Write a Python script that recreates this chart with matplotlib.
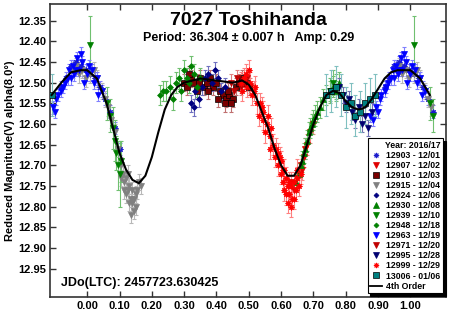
import numpy as np
import matplotlib
matplotlib.use('Agg')
import matplotlib.pyplot as plt
from matplotlib.lines import Line2D

plt.rcParams['font.family'] = ['Liberation Sans', 'DejaVu Sans']
plt.rcParams['font.weight'] = 'bold'

# ---- data (phase, reduced magnitude) ----
ph_12903 = [0.92, 0.935, 0.95, 0.965, 0.98, 0.995, 0.01, 0.025, 0.04, 0.055, 0.07, 0.085, 0.10]
mag_12903 = [12.51, 12.49, 12.46, 12.45, 12.46, 12.47, 12.48, 12.49, 12.51, 12.54, 12.57, 12.61, 12.66]

ph_12907 = [0.63, 0.64, 0.65, 0.655, 0.66, 0.665, 0.67, 0.675, 0.68, 0.69, 0.70]
mag_12907 = [12.74, 12.76, 12.73, 12.72, 12.70, 12.71, 12.68, 12.66, 12.65, 12.62, 12.60]

ph_12910 = [0.30, 0.31, 0.32, 0.33, 0.34, 0.35, 0.36, 0.37, 0.38, 0.39, 0.40,
            0.41, 0.42, 0.43, 0.44, 0.45, 0.46, 0.47, 0.48, 0.49, 0.50,
            0.315, 0.345, 0.375, 0.405, 0.425, 0.435, 0.445]
mag_12910 = [12.50, 12.51, 12.49, 12.50, 12.52, 12.49, 12.51, 12.50, 12.49, 12.51, 12.50,
             12.52, 12.53, 12.54, 12.53, 12.54, 12.51, 12.50, 12.49, 12.50, 12.51,
             12.48, 12.50, 12.52, 12.54, 12.55, 12.52, 12.55]

ph_12915 = [0.955, 0.965, 0.975, 0.985, 0.995, 0.01, 0.02, 0.03, 0.045, 0.055, 0.065, 0.075,
            0.085, 0.095, 0.105, 0.11, 0.115, 0.12, 0.125, 0.13, 0.135, 0.14, 0.145, 0.15,
            0.155, 0.16, 0.165, 0.12, 0.13, 0.135, 0.14, 0.145, 0.15, 0.125, 0.115, 0.105]
mag_12915 = [12.47, 12.46, 12.48, 12.47, 12.49, 12.48, 12.47, 12.49, 12.52, 12.54, 12.56, 12.59,
             12.62, 12.66, 12.70, 12.72, 12.74, 12.73, 12.76, 12.75, 12.78, 12.79, 12.81, 12.77,
             12.76, 12.74, 12.75, 12.77, 12.79, 12.82, 12.76, 12.78, 12.80, 12.72, 12.76, 12.73]

ph_12924 = [0.32, 0.33, 0.335, 0.345, 0.355, 0.365, 0.375, 0.385, 0.395, 0.405, 0.415, 0.425]
mag_12924 = [12.55, 12.56, 12.52, 12.54, 12.51, 12.49, 12.48, 12.50, 12.47, 12.49, 12.52, 12.51]

ph_12930 = [0.645, 0.655, 0.66, 0.665, 0.67, 0.675, 0.68, 0.685, 0.69, 0.695,
            0.70, 0.705, 0.71, 0.72, 0.73, 0.74, 0.75, 0.76, 0.77, 0.78]
mag_12930 = [12.74, 12.72, 12.70, 12.69, 12.67, 12.66, 12.64, 12.62, 12.61, 12.60,
             12.59, 12.58, 12.57, 12.56, 12.54, 12.53, 12.52, 12.51, 12.52, 12.50]

ph_12939 = [0.01, 0.06, 0.07, 0.08, 0.085, 0.09, 0.095, 0.10, 0.105, 0.75, 0.76, 0.77]
mag_12939 = [12.41, 12.55, 12.58, 12.61, 12.64, 12.67, 12.70, 12.72, 12.69, 12.52, 12.50, 12.51]
err_12939 = [0.07, 0.04, 0.04, 0.05, 0.05, 0.04, 0.06, 0.08, 0.05, 0.03, 0.03, 0.03]

ph_12948 = [0.225, 0.235, 0.245, 0.255, 0.265, 0.275, 0.285, 0.29, 0.30, 0.31,
            0.315, 0.32, 0.33, 0.34, 0.35]
mag_12948 = [12.53, 12.52, 12.52, 12.51, 12.54, 12.50, 12.49, 12.52, 12.47, 12.49,
             12.50, 12.46, 12.48, 12.51, 12.49]

ph_12963 = [0.875, 0.885, 0.895, 0.905, 0.91, 0.92, 0.93, 0.94, 0.945, 0.955, 0.96,
            0.97, 0.975, 0.985, 0.99, 0.998, 0.005, 0.015, 0.02, 0.03, 0.035, 0.045,
            0.90, 0.925, 0.95, 0.965, 0.98]
mag_12963 = [12.58, 12.59, 12.56, 12.54, 12.53, 12.52, 12.50, 12.49, 12.47, 12.46, 12.48,
             12.44, 12.47, 12.45, 12.50, 12.48, 12.46, 12.47, 12.50, 12.49, 12.53, 12.52,
             12.57, 12.51, 12.49, 12.47, 12.43]

ph_12971 = [0.445, 0.455, 0.465, 0.475, 0.485, 0.495, 0.505]
mag_12971 = [12.50, 12.52, 12.49, 12.51, 12.50, 12.49, 12.51]

ph_12995 = [0.78, 0.79, 0.80, 0.81, 0.82, 0.83, 0.84, 0.85, 0.86, 0.87, 0.88]
mag_12995 = [12.51, 12.53, 12.55, 12.54, 12.57, 12.59, 12.56, 12.60, 12.58, 12.61, 12.57]

ph_12999 = [0.475, 0.485, 0.495, 0.505, 0.515, 0.525, 0.53, 0.535, 0.545, 0.555, 0.565,
            0.57, 0.575, 0.58, 0.585, 0.59, 0.595, 0.60, 0.605, 0.61, 0.61, 0.615, 0.62,
            0.62, 0.625, 0.63, 0.63, 0.635, 0.64, 0.645, 0.65, 0.655,
            0.49, 0.51, 0.52, 0.54, 0.55, 0.56, 0.565, 0.59, 0.60, 0.605, 0.615,
            0.625, 0.64, 0.65, 0.66, 0.48, 0.50, 0.545]
mag_12999 = [12.50, 12.49, 12.51, 12.50, 12.52, 12.55, 12.58, 12.55, 12.59, 12.60, 12.63,
             12.61, 12.65, 12.68, 12.66, 12.70, 12.68, 12.72, 12.74, 12.76, 12.71, 12.73, 12.79,
             12.75, 12.77, 12.75, 12.80, 12.78, 12.74, 12.76, 12.73, 12.75,
             12.48, 12.53, 12.51, 12.56, 12.62, 12.58, 12.66, 12.67, 12.69, 12.71, 12.77,
             12.74, 12.78, 12.71, 12.72, 12.52, 12.47, 12.57]

ph_13006 = [0.74, 0.755, 0.77, 0.785, 0.80, 0.815, 0.83, 0.845, 0.86, 0.875, 0.89]
mag_13006 = [12.53, 12.52, 12.51, 12.53, 12.56, 12.55, 12.58, 12.57, 12.55, 12.54, 12.53]

# 4th order fit, read at a set of phases
fit_ph = [-0.11, -0.08, -0.05, -0.02, 0.00, 0.03, 0.06, 0.08, 0.10, 0.12, 0.14, 0.16, 0.18,
          0.20, 0.22, 0.24, 0.26, 0.28, 0.30, 0.35, 0.40, 0.45, 0.48, 0.50, 0.52, 0.54,
          0.56, 0.58, 0.60, 0.62, 0.64, 0.66, 0.68, 0.70, 0.72, 0.74, 0.76, 0.78, 0.80,
          0.82, 0.84, 0.86, 0.88, 0.90, 0.92, 0.94, 0.96, 0.98, 1.00, 1.03, 1.06]
fit_mag = [12.53, 12.50, 12.475, 12.47, 12.47, 12.49, 12.55, 12.61, 12.67, 12.71, 12.735, 12.743, 12.725,
           12.68, 12.62, 12.565, 12.53, 12.51, 12.50, 12.49, 12.495, 12.50, 12.495, 12.505, 12.53, 12.57,
           12.61, 12.66, 12.70, 12.725, 12.725, 12.70, 12.65, 12.60, 12.56, 12.53, 12.52, 12.525, 12.545,
           12.56, 12.565, 12.56, 12.54, 12.515, 12.49, 12.475, 12.47, 12.47, 12.47, 12.49, 12.53]

sessions = [
    ('12903 - 12/01', ph_12903, mag_12903, 0.015, (8, 1, 0), '#1a1acc', '#8080ff'),
    ('12907 - 12/02', ph_12907, mag_12907, 0.025, 'v', '#e00000', '#ff8080'),
    ('12910 - 12/03', ph_12910, mag_12910, 0.02, 's', '#7a0000', '#c07070'),
    ('12915 - 12/04', ph_12915, mag_12915, 0.02, 'v', '#808080', '#b8b8b8'),
    ('12924 - 12/06', ph_12924, mag_12924, 0.02, 'D', '#000080', '#7070c0'),
    ('12930 - 12/08', ph_12930, mag_12930, 0.025, '^', '#008000', '#70c070'),
    ('12939 - 12/10', ph_12939, mag_12939, err_12939, 'v', '#008000', '#70c070'),
    ('12948 - 12/18', ph_12948, mag_12948, 0.025, 'D', '#008000', '#70c070'),
    ('12963 - 12/19', ph_12963, mag_12963, 0.015, 'v', '#0000ff', '#8080ff'),
    ('12971 - 12/20', ph_12971, mag_12971, 0.02, 'v', '#c00000', '#e08080'),
    ('12995 - 12/28', ph_12995, mag_12995, 0.02, 'v', '#000070', '#7070b0'),
    ('12999 - 12/29', ph_12999, mag_12999, 0.025, (8, 1, 0), '#ff0000', '#ff8080'),
    ('13006 - 01/06', ph_13006, mag_13006, 0.05, 's', '#008080', '#80c0c0'),
]

fig = plt.figure(figsize=(4.5, 3.13), dpi=100)
ax = fig.add_axes([50/450, 16/313, 396/450, 293/313])

handles = []
for label, ph, mag, err, mk, col, ecol in sessions:
    ph = np.array(ph)
    mag = np.array(mag)
    err = np.broadcast_to(np.array(err, dtype=float), ph.shape)
    # plot also the wrapped copies, like the phase plot does
    lo = ph < 0.075
    hi = ph > 0.885
    x = np.concatenate([ph, ph[lo] + 1, ph[hi] - 1])
    y = np.concatenate([mag, mag[lo], mag[hi]])
    e = np.concatenate([err, err[lo], err[hi]])
    edge = 'black' if mk == 's' else col
    ms = 3 if mk == 'D' else 4.5
    ax.errorbar(x, y, yerr=e, fmt='none', ecolor=ecol, elinewidth=0.8, capsize=1.5,
                capthick=0.8, zorder=2)
    ax.plot(x, y, ls='none', marker=mk, ms=ms, color=col, mec=edge, mew=0.5, zorder=3)
    handles.append(Line2D([], [], ls='none', marker=mk, ms=ms * 0.85, color=col, mec=edge,
                          mew=0.5, label=label))

ax.plot(fit_ph, fit_mag, color='black', lw=1.5, zorder=4)
handles.append(Line2D([], [], color='black', lw=1.3, label='4th Order'))

ax.set_xlim(-0.115, 1.11)
ax.set_ylim(13.018, 12.31)
ax.set_xticks(np.arange(0, 1.01, 0.1))
ax.set_xticklabels(['%.2f' % t for t in np.arange(0, 1.01, 0.1)])
ax.set_yticks(np.arange(12.35, 12.96, 0.05))
ax.set_yticklabels(['%.2f' % t for t in np.arange(12.35, 12.96, 0.05)])
ax.tick_params(direction='in', top=True, right=True, length=4, width=1,
               labelsize=8, pad=3, colors='#333333', labelcolor='black')
for s in ax.spines.values():
    s.set_color('#333333')
    s.set_linewidth(1.2)
ax.set_ylabel('Reduced Magnitude(V) alpha(8.0°)', fontsize=8, fontweight='bold', labelpad=2)

fig.text(248.5/450, 1 - 20.7/313, '7027 Toshihanda', fontsize=14, fontweight='bold',
         ha='center', va='center')
fig.text(249/450, 1 - 37.5/313, 'Period: 36.304 ± 0.007 h   Amp: 0.29', fontsize=9,
         fontweight='bold', ha='center', va='center')
fig.text(61/450, 1 - 283/313, 'JDo(LTC): 2457723.630425', fontsize=9, fontweight='bold',
         ha='left', va='center')

leg = ax.legend(handles=handles, loc='lower right', bbox_to_anchor=(0.992, 0.013),
                borderaxespad=0, fontsize=6.3, title='Year: 2016/17',
                title_fontproperties={'weight': 'bold', 'size': 6.3}, alignment='right',
                labelspacing=0.12, handlelength=1.3, handletextpad=0.5, borderpad=0.3,
                fancybox=False, shadow={'color': 'black', 'alpha': 1, 'ox': 2, 'oy': -2},
                framealpha=1, edgecolor='black')
leg.get_frame().set_linewidth(0.8)

fig.savefig('out.png', dpi=100)
